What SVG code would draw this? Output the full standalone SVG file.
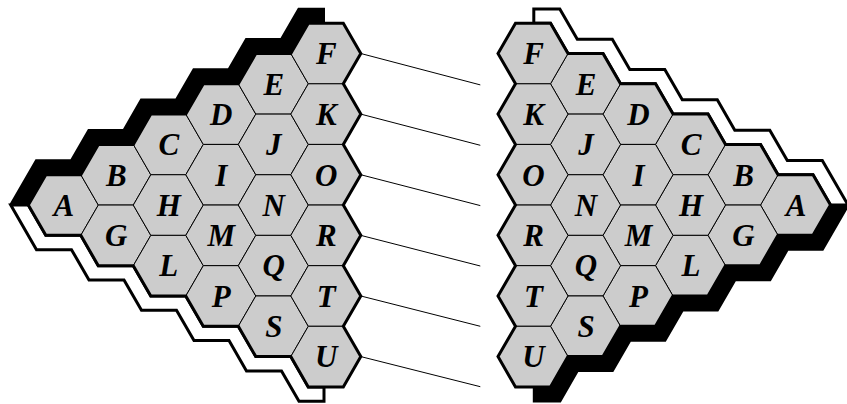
<svg xmlns="http://www.w3.org/2000/svg" xmlns:xlink="http://www.w3.org/1999/xlink" width="847" height="404" viewBox="0 0 847 404">
<style>
.hex{fill:#cccccc;stroke:#000;stroke-width:1}
.edge{fill:none;stroke:#000;stroke-width:3;stroke-linejoin:miter}
.blk{fill:#000;stroke:none}
.wht{fill:#fff;stroke:#000;stroke-width:3;stroke-linejoin:miter}
.lbl{text-anchor:middle;fill:#000}
.conn line{stroke:#000;stroke-width:1}
</style>
<defs>
<polygon id="hex" points="-35,0 -17.5,-30.31 17.5,-30.31 35,0 17.5,30.31 -17.5,30.31"/>
<path id="outline" d="M28.3,205.05 L45.8,174.74 L80.8,174.74 L98.3,144.43 L133.3,144.43 L150.8,114.12 L185.8,114.12 L203.3,83.81 L238.3,83.81 L255.8,53.5 L290.8,53.5 L308.3,23.19 L343.3,23.19 L360.8,53.5 L343.3,83.81 L360.8,114.12 L343.3,144.43 L360.8,174.74 L343.3,205.05 L360.8,235.36 L343.3,265.67 L360.8,295.98 L343.3,326.29 L360.8,356.6 L343.3,386.91 L308.3,386.91 L290.8,356.6 L255.8,356.6 L238.3,326.29 L203.3,326.29 L185.8,295.98 L150.8,295.98 L133.3,265.67 L98.3,265.67 L80.8,235.36 L45.8,235.36 Z"/>
</defs>

<!-- left board strips -->
<g id="left-strips">
<path class="blk" d="M9.05,205.05 L35.5,159.24 L70.5,159.24 L88,128.93 L123,128.93 L140.5,98.62 L175.5,98.62 L193,68.31 L228,68.31 L245.5,38 L280.5,38 L298,7.69 L325,7.69 L325,23.19 L308.3,23.19 L290.8,53.5 L255.8,53.5 L238.3,83.81 L203.3,83.81 L185.8,114.12 L150.8,114.12 L133.3,144.43 L98.3,144.43 L80.8,174.74 L45.8,174.74 L28.3,205.05 Z"/>
<path class="wht" d="M10.74,205.05 L36.5,249.66 L71.5,249.66 L89,279.97 L124,279.97 L141.5,310.28 L176.5,310.28 L194,340.59 L229,340.59 L246.5,370.9 L281.5,370.9 L299,401.21 L324,401.21 L324,386.91 L308.3,386.91 L290.8,356.6 L255.8,356.6 L238.3,326.29 L203.3,326.29 L185.8,295.98 L150.8,295.98 L133.3,265.67 L98.3,265.67 L80.8,235.36 L45.8,235.36 L28.3,205.05 Z"/>
</g>

<!-- right board strips (mirrored) -->
<g id="right-strips" transform="translate(858.8,0) scale(-1,1)">
<path class="wht" d="M10.74,205.05 L36.5,160.44 L71.5,160.44 L89,130.13 L124,130.13 L141.5,99.82 L176.5,99.82 L194,69.51 L229,69.51 L246.5,39.2 L281.5,39.2 L299,8.89 L325,8.89 L325,23.19 L308.3,23.19 L290.8,53.5 L255.8,53.5 L238.3,83.81 L203.3,83.81 L185.8,114.12 L150.8,114.12 L133.3,144.43 L98.3,144.43 L80.8,174.74 L45.8,174.74 L28.3,205.05 Z"/>
<path class="blk" d="M9.05,205.05 L35.5,250.86 L70.5,250.86 L88,281.17 L123,281.17 L140.5,311.48 L175.5,311.48 L193,341.79 L228,341.79 L245.5,372.1 L280.5,372.1 L298,402.41 L326,402.41 L326,386.91 L308.3,386.91 L290.8,356.6 L255.8,356.6 L238.3,326.29 L203.3,326.29 L185.8,295.98 L150.8,295.98 L133.3,265.67 L98.3,265.67 L80.8,235.36 L45.8,235.36 L28.3,205.05 Z"/>
</g>

<g font-family="'Liberation Serif', 'Times New Roman', serif" font-weight="bold" font-style="italic" font-size="31">
<!-- left board nodes -->
<g id="left-board">
<g id="L-A"><use href="#hex" class="hex" x="63.3" y="205.05"/><text class="lbl" x="63.8" y="215.8">A</text></g>
<g id="L-B"><use href="#hex" class="hex" x="115.8" y="174.74"/><text class="lbl" x="116.3" y="185.5">B</text></g>
<g id="L-G"><use href="#hex" class="hex" x="115.8" y="235.36"/><text class="lbl" x="116.3" y="246.1">G</text></g>
<g id="L-C"><use href="#hex" class="hex" x="168.3" y="144.43"/><text class="lbl" x="168.8" y="155.2">C</text></g>
<g id="L-H"><use href="#hex" class="hex" x="168.3" y="205.05"/><text class="lbl" x="168.8" y="215.8">H</text></g>
<g id="L-L"><use href="#hex" class="hex" x="168.3" y="265.67"/><text class="lbl" x="168.8" y="276.4">L</text></g>
<g id="L-D"><use href="#hex" class="hex" x="220.8" y="114.12"/><text class="lbl" x="221.3" y="124.9">D</text></g>
<g id="L-I"><use href="#hex" class="hex" x="220.8" y="174.74"/><text class="lbl" x="221.3" y="185.5">I</text></g>
<g id="L-M"><use href="#hex" class="hex" x="220.8" y="235.36"/><text class="lbl" x="221.3" y="246.1">M</text></g>
<g id="L-P"><use href="#hex" class="hex" x="220.8" y="295.98"/><text class="lbl" x="221.3" y="306.7">P</text></g>
<g id="L-E"><use href="#hex" class="hex" x="273.3" y="83.81"/><text class="lbl" x="273.8" y="94.6">E</text></g>
<g id="L-J"><use href="#hex" class="hex" x="273.3" y="144.43"/><text class="lbl" x="273.8" y="155.2">J</text></g>
<g id="L-N"><use href="#hex" class="hex" x="273.3" y="205.05"/><text class="lbl" x="273.8" y="215.8">N</text></g>
<g id="L-Q"><use href="#hex" class="hex" x="273.3" y="265.67"/><text class="lbl" x="273.8" y="276.4">Q</text></g>
<g id="L-S"><use href="#hex" class="hex" x="273.3" y="326.29"/><text class="lbl" x="273.8" y="337.0">S</text></g>
<g id="L-F"><use href="#hex" class="hex" x="325.8" y="53.5"/><text class="lbl" x="326.3" y="64.3">F</text></g>
<g id="L-K"><use href="#hex" class="hex" x="325.8" y="114.12"/><text class="lbl" x="326.3" y="124.9">K</text></g>
<g id="L-O"><use href="#hex" class="hex" x="325.8" y="174.74"/><text class="lbl" x="326.3" y="185.5">O</text></g>
<g id="L-R"><use href="#hex" class="hex" x="325.8" y="235.36"/><text class="lbl" x="326.3" y="246.1">R</text></g>
<g id="L-T"><use href="#hex" class="hex" x="325.8" y="295.98"/><text class="lbl" x="326.3" y="306.7">T</text></g>
<g id="L-U"><use href="#hex" class="hex" x="325.8" y="356.6"/><text class="lbl" x="326.3" y="367.3">U</text></g>
</g>

<!-- right board nodes -->
<g id="right-board">
<g id="R-A"><use href="#hex" class="hex" x="795.5" y="205.05"/><text class="lbl" x="796" y="215.8">A</text></g>
<g id="R-B"><use href="#hex" class="hex" x="743" y="174.74"/><text class="lbl" x="743.5" y="185.5">B</text></g>
<g id="R-G"><use href="#hex" class="hex" x="743" y="235.36"/><text class="lbl" x="743.5" y="246.1">G</text></g>
<g id="R-C"><use href="#hex" class="hex" x="690.5" y="144.43"/><text class="lbl" x="691" y="155.2">C</text></g>
<g id="R-H"><use href="#hex" class="hex" x="690.5" y="205.05"/><text class="lbl" x="691" y="215.8">H</text></g>
<g id="R-L"><use href="#hex" class="hex" x="690.5" y="265.67"/><text class="lbl" x="691" y="276.4">L</text></g>
<g id="R-D"><use href="#hex" class="hex" x="638" y="114.12"/><text class="lbl" x="638.5" y="124.9">D</text></g>
<g id="R-I"><use href="#hex" class="hex" x="638" y="174.74"/><text class="lbl" x="638.5" y="185.5">I</text></g>
<g id="R-M"><use href="#hex" class="hex" x="638" y="235.36"/><text class="lbl" x="638.5" y="246.1">M</text></g>
<g id="R-P"><use href="#hex" class="hex" x="638" y="295.98"/><text class="lbl" x="638.5" y="306.7">P</text></g>
<g id="R-E"><use href="#hex" class="hex" x="585.5" y="83.81"/><text class="lbl" x="586" y="94.6">E</text></g>
<g id="R-J"><use href="#hex" class="hex" x="585.5" y="144.43"/><text class="lbl" x="586" y="155.2">J</text></g>
<g id="R-N"><use href="#hex" class="hex" x="585.5" y="205.05"/><text class="lbl" x="586" y="215.8">N</text></g>
<g id="R-Q"><use href="#hex" class="hex" x="585.5" y="265.67"/><text class="lbl" x="586" y="276.4">Q</text></g>
<g id="R-S"><use href="#hex" class="hex" x="585.5" y="326.29"/><text class="lbl" x="586" y="337.0">S</text></g>
<g id="R-F"><use href="#hex" class="hex" x="533" y="53.5"/><text class="lbl" x="533.5" y="64.3">F</text></g>
<g id="R-K"><use href="#hex" class="hex" x="533" y="114.12"/><text class="lbl" x="533.5" y="124.9">K</text></g>
<g id="R-O"><use href="#hex" class="hex" x="533" y="174.74"/><text class="lbl" x="533.5" y="185.5">O</text></g>
<g id="R-R"><use href="#hex" class="hex" x="533" y="235.36"/><text class="lbl" x="533.5" y="246.1">R</text></g>
<g id="R-T"><use href="#hex" class="hex" x="533" y="295.98"/><text class="lbl" x="533.5" y="306.7">T</text></g>
<g id="R-U"><use href="#hex" class="hex" x="533" y="356.6"/><text class="lbl" x="533.5" y="367.3">U</text></g>
</g>
</g>

<!-- board outlines -->
<use href="#outline" class="edge"/>
<use href="#outline" class="edge" transform="translate(858.8,0) scale(-1,1)"/>

<!-- connectors -->
<g id="connectors" class="conn">
<line x1="360.8" y1="53.5" x2="480.3" y2="84.9"/>
<line x1="360.8" y1="114.12" x2="480.3" y2="145.3"/>
<line x1="360.8" y1="174.74" x2="480.3" y2="205.6"/>
<line x1="360.8" y1="235.36" x2="480.3" y2="266"/>
<line x1="360.8" y1="295.98" x2="480.3" y2="326.3"/>
<line x1="360.8" y1="356.6" x2="480.3" y2="386.7"/>
</g>
</svg>
